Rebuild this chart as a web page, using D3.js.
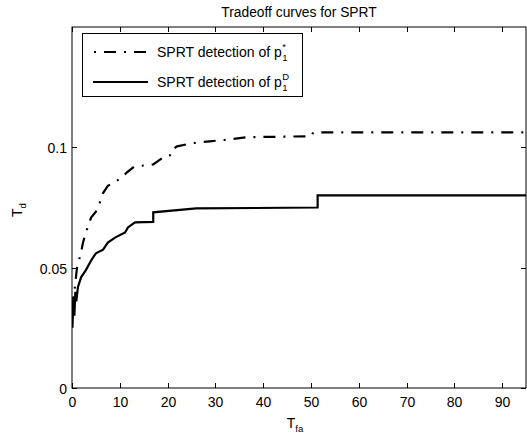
<!DOCTYPE html>
<html><head><meta charset="utf-8">
<script src="https://cdn.jsdelivr.net/npm/d3@7"></script>
<style>body{margin:0;background:#fff}svg text{font-family:"Liberation Sans",Arial,sans-serif;fill:#000}</style>
</head><body>
<svg id="c" width="527" height="438"></svg>
<script>
const titleText = "Tradeoff curves for SPRT";
const xTicks = [0,10,20,30,40,50,60,70,80,90];
const yTicks = [0,0.05,0.1];
const yTickLabels = ["0","0.05","0.1"];
// SPRT detection of p1* (dash-dot)
const starT = [0.1,0.6,1.1,1.8,2.3,2.6,3.3,4.0,5.0,5.8,6.5,7.5,8.8,10.5,11.5,13,17,19.4,20.5,21,22,25,28.8,33,36.5,50,50.5,95];
const starV = [0.033,0.042,0.051,0.0554,0.0604,0.0625,0.067,0.0708,0.0733,0.077,0.081,0.084,0.0854,0.0875,0.0896,0.092,0.0929,0.0963,0.0967,0.0992,0.1004,0.1017,0.1025,0.1033,0.1042,0.1046,0.1062,0.1062];
// SPRT detection of p1^D (solid)
const dT = [0.1,0.3,0.5,0.7,0.9,1.25,1.9,2.9,4.0,5.0,6.5,7.5,9.0,11.1,11.7,13.2,17,17,26,51.4,51.4,95];
const dV = [0.025,0.038,0.030,0.040,0.036,0.042,0.046,0.049,0.053,0.056,0.0575,0.0604,0.0625,0.0646,0.0667,0.0688,0.069,0.073,0.0746,0.075,0.080,0.080];

const svg = d3.select("#c");
const L=72, R=526, T=27, B=388;
const FS=14;
const x = d3.scaleLinear().domain([0,95]).range([L,R]);
const y = d3.scaleLinear().domain([0,0.15]).range([B,T]);

svg.append("clipPath").attr("id","clip").append("rect").attr("x",L).attr("y",T).attr("width",R-L).attr("height",B-T);

const line = d3.line().x(d=>x(d[0])).y(d=>y(d[1]));
svg.append("path").datum(starT.map((t,i)=>[t,starV[i]]))
  .attr("d",line).attr("fill","none").attr("stroke","#000").attr("stroke-width",2.2)
  .attr("stroke-dasharray","12,8,2,8").attr("clip-path","url(#clip)");
svg.append("path").datum(dT.map((t,i)=>[t,dV[i]]))
  .attr("d",line).attr("fill","none").attr("stroke","#000").attr("stroke-width",2.2)
  .attr("clip-path","url(#clip)");

// axes box
const g = svg.append("g");
g.append("rect").attr("x",L).attr("y",T).attr("width",R-L).attr("height",B-T)
  .attr("fill","none").attr("stroke","#000").attr("stroke-width",1);
const tl=5;
xTicks.forEach(t=>{
  const px=Math.round(x(t))+0.5;
  g.append("line").attr("x1",px).attr("x2",px).attr("y1",B).attr("y2",B-tl).attr("stroke","#000");
  g.append("line").attr("x1",px).attr("x2",px).attr("y1",T).attr("y2",T+tl).attr("stroke","#000");
  g.append("text").attr("x",px).attr("y",407).attr("text-anchor","middle").attr("font-size",FS).text(t);
});
yTicks.forEach((t,i)=>{
  const py=Math.round(y(t))+0.5;
  g.append("line").attr("x1",L).attr("x2",L+tl).attr("y1",py).attr("y2",py).attr("stroke","#000");
  g.append("line").attr("x1",R).attr("x2",R-tl).attr("y1",py).attr("y2",py).attr("stroke","#000");
  g.append("text").attr("x",67).attr("y",py+5).attr("text-anchor","end").attr("font-size",FS).text(yTickLabels[i]);
});

// title
svg.append("text").attr("x",(L+R)/2).attr("y",17).attr("text-anchor","middle").attr("font-size",13.8).text(titleText);
// x label
const xl = svg.append("text").attr("x",(L+R)/2-4).attr("y",428).attr("text-anchor","middle").attr("font-size",FS);
xl.append("tspan").text("T");
xl.append("tspan").attr("font-size",9.5).attr("dy",4).text("fa");
// y label
const yl = svg.append("text").attr("transform","translate(22,210) rotate(-90)").attr("text-anchor","middle").attr("font-size",FS);
yl.append("tspan").text("T");
yl.append("tspan").attr("font-size",9.5).attr("dy",4).text("d");

// legend
const lg = svg.append("g");
lg.append("rect").attr("x",82.5).attr("y",33.5).attr("width",220).attr("height",63).attr("fill","#fff").attr("stroke","#000");
lg.append("line").attr("x1",94).attr("x2",148).attr("y1",52).attr("y2",52).attr("stroke","#000").attr("stroke-width",2.2).attr("stroke-dasharray","2,8,12,8");
lg.append("line").attr("x1",93).attr("x2",148).attr("y1",82).attr("y2",82).attr("stroke","#000").attr("stroke-width",2.2);
function legText(yy){
  const t = lg.append("text").attr("x",157).attr("y",yy).attr("font-size",FS);
  t.append("tspan").text("SPRT detection of p");
  return t;
}
const t1 = legText(57);
const t2 = legText(87);
[[t1,"*"],[t2,"D"]].forEach(([t,s])=>{
  const w = t.node().getComputedTextLength();
  const bx = 157+w+0.5;
  const yy = +t.attr("y");
  lg.append("text").attr("x",bx).attr("y",yy+4).attr("font-size",9.5).text("1");
  lg.append("text").attr("x",bx).attr("y",yy-7).attr("font-size",9.5).text(s);
});
</script>
</body></html>
